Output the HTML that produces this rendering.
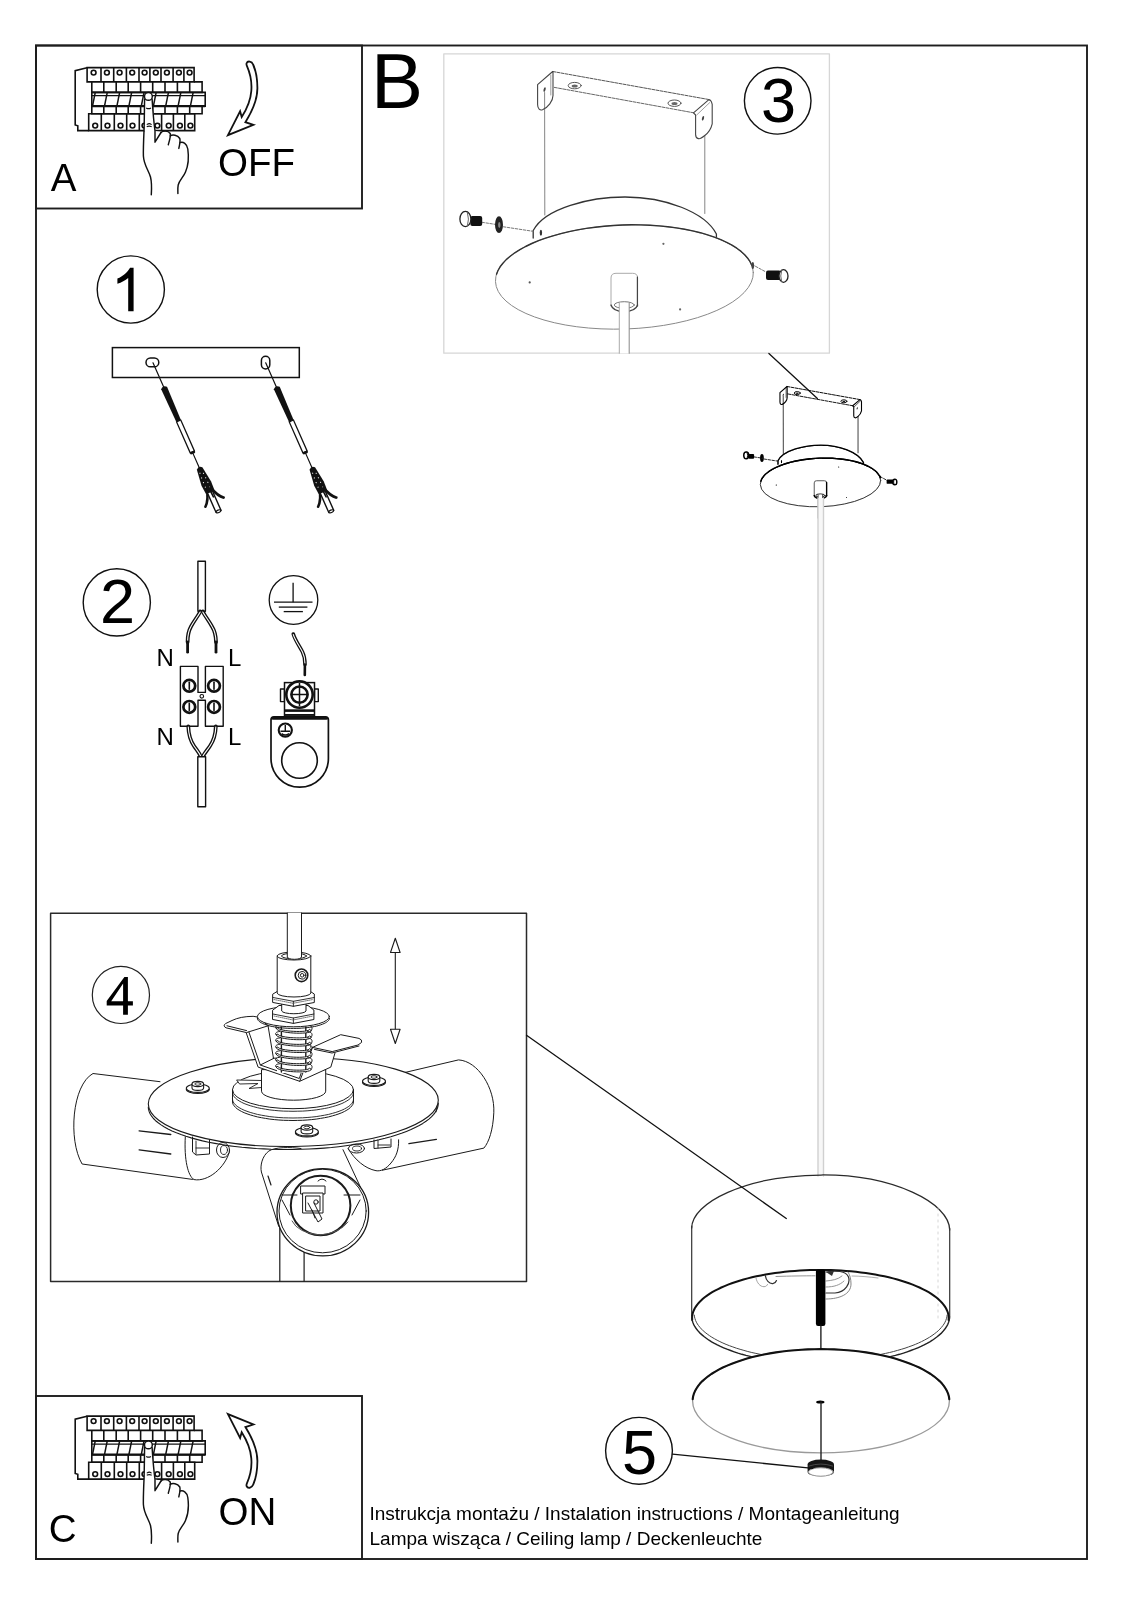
<!DOCTYPE html>
<html><head><meta charset="utf-8"><title>Instrukcja montażu - lampa wisząca</title>
<style>
html,body{margin:0;padding:0;background:#fff;width:1133px;height:1600px;overflow:hidden}
svg{position:absolute;left:0;top:0;display:block;will-change:transform}
text{font-family:"Liberation Sans",sans-serif;fill:#000}
.nss *{vector-effect:non-scaling-stroke}
</style></head><body>
<svg width="1133" height="1600" viewBox="0 0 1133 1600" fill="none" stroke-linejoin="round" stroke-linecap="round">
<!-- frames -->
<g stroke="#1e1e1e" stroke-width="1.9" stroke-linejoin="miter" stroke-linecap="butt">
<rect x="36" y="45.5" width="1051" height="1513.5"/>
<rect x="36" y="45.5" width="326" height="163"/>
<rect x="36" y="1396" width="326" height="163"/>
</g>
<rect x="50.6" y="913.2" width="475.9" height="368.2" stroke="#2a2a2a" stroke-width="1.5"/>
<rect x="443.8" y="53.8" width="385.6" height="299.4" stroke="#d6d6d6" stroke-width="1.3"/>

<!-- labels -->
<text x="371" y="107.5" font-size="78">B</text>
<text x="50.8" y="190.8" font-size="38.5">A</text>
<text x="218" y="176" font-size="38.5">OFF</text>
<text x="48.8" y="1542" font-size="38.5">C</text>
<text x="218.5" y="1524.6" font-size="38.5">ON</text>
<text x="369.5" y="1520.3" font-size="19">Instrukcja montażu / Instalation instructions / Montageanleitung</text>
<text x="369.5" y="1545.3" font-size="19">Lampa wisząca / Ceiling lamp / Deckenleuchte</text>

<!-- numbered circles -->
<g stroke="#111" stroke-width="1.4">
<circle cx="130.8" cy="289.5" r="33.6"/>
<circle cx="116.8" cy="602.4" r="33.6"/>
<circle cx="777.7" cy="100.8" r="33.3"/>
<circle cx="120.9" cy="994.9" r="28.6" stroke-width="1.2" stroke="#222"/>
<circle cx="639" cy="1450.8" r="33.4"/>
</g>
<path fill="#000" d="M133.6 267.7 L133.6 311.3 L128.2 311.3 L128.2 277.9 C125.3 280.3 121.5 282.3 117.4 283.8 L117.4 278.6 C123 276.3 127.6 272 130.1 267.7 Z"/>
<text x="100" y="623.3" font-size="63">2</text>
<text x="761" y="122" font-size="63">3</text>
<path fill="#000" fill-rule="evenodd" d="M124.4 976.9 H127.9 V1001.3 H132.9 V1005.5 H127.9 V1014.8 H123.1 V1005.5 H106.7 V1001 Z M111.2 1001.3 H123.1 V983.5 Z"/>
<text x="622" y="1473.7" font-size="63">5</text>

<!-- N L labels -->
<text x="156.5" y="665.5" font-size="24">N</text>
<text x="228" y="665.5" font-size="24">L</text>
<text x="156.5" y="744.6" font-size="24">N</text>
<text x="228" y="744.6" font-size="24">L</text>


<g id="brk" stroke="#111" stroke-width="1.6" fill="none" stroke-linejoin="miter" stroke-linecap="butt">
<path d="M87 67.8 L75.2 70.6 L75.2 125 L77.8 125.8 L77.8 130.6 L88.7 130.6"/>
<path d="M87.1 81.9 V67.6 H194.1 V81.9 Z"/>
<line x1="101.0" y1="67.6" x2="101.0" y2="81.9"/>
<line x1="113.7" y1="67.6" x2="113.7" y2="81.9"/>
<line x1="126.4" y1="67.6" x2="126.4" y2="81.9"/>
<line x1="139.0" y1="67.6" x2="139.0" y2="81.9"/>
<line x1="149.9" y1="67.6" x2="149.9" y2="81.9"/>
<line x1="161.0" y1="67.6" x2="161.0" y2="81.9"/>
<line x1="173.1" y1="67.6" x2="173.1" y2="81.9"/>
<line x1="183.9" y1="67.6" x2="183.9" y2="81.9"/>
<circle cx="93.6" cy="72.6" r="2.4"/>
<circle cx="106.9" cy="72.6" r="2.4"/>
<circle cx="119.6" cy="72.6" r="2.4"/>
<circle cx="132.2" cy="72.6" r="2.4"/>
<circle cx="144.6" cy="72.6" r="2.4"/>
<circle cx="155.8" cy="72.6" r="2.4"/>
<circle cx="166.9" cy="72.6" r="2.4"/>
<circle cx="178.9" cy="72.6" r="2.4"/>
<circle cx="189.6" cy="72.6" r="2.4"/>
<path d="M91.8 81.9 V92.4 H202.1 V81.9 H194.1"/>
<line x1="103.8" y1="81.9" x2="103.8" y2="92.4"/>
<line x1="116.2" y1="81.9" x2="116.2" y2="92.4"/>
<line x1="128.2" y1="81.9" x2="128.2" y2="92.4"/>
<line x1="140.6" y1="81.9" x2="140.6" y2="92.4"/>
<line x1="152.7" y1="81.9" x2="152.7" y2="92.4"/>
<line x1="165.0" y1="81.9" x2="165.0" y2="92.4"/>
<line x1="177.4" y1="81.9" x2="177.4" y2="92.4"/>
<line x1="189.7" y1="81.9" x2="189.7" y2="92.4"/>
<path d="M91.8 92.4 H205.2 V106.2 H91.8 Z"/>
<line x1="92" y1="95.7" x2="205" y2="95.7" stroke-width="1.3"/>
<line x1="92.6" y1="105.6" x2="95.2" y2="92.6" stroke-width="1.5"/>
<line x1="104.6" y1="105.6" x2="107.2" y2="92.6" stroke-width="1.5"/>
<line x1="117.0" y1="105.6" x2="119.6" y2="92.6" stroke-width="1.5"/>
<line x1="129.0" y1="105.6" x2="131.6" y2="92.6" stroke-width="1.5"/>
<line x1="141.4" y1="105.6" x2="144.0" y2="92.6" stroke-width="1.5"/>
<line x1="153.5" y1="105.6" x2="156.1" y2="92.6" stroke-width="1.5"/>
<line x1="165.8" y1="105.6" x2="168.4" y2="92.6" stroke-width="1.5"/>
<line x1="178.2" y1="105.6" x2="180.8" y2="92.6" stroke-width="1.5"/>
<line x1="190.5" y1="105.6" x2="193.1" y2="92.6" stroke-width="1.5"/>
<line x1="91.8" y1="106.2" x2="205.2" y2="106.2" stroke-width="2.2"/>
<path d="M91.8 106.2 V113.8 H202.1 V106.2"/>
<line x1="103.8" y1="106.2" x2="103.8" y2="113.8"/>
<line x1="116.2" y1="106.2" x2="116.2" y2="113.8"/>
<line x1="128.2" y1="106.2" x2="128.2" y2="113.8"/>
<line x1="140.6" y1="106.2" x2="140.6" y2="113.8"/>
<line x1="152.7" y1="106.2" x2="152.7" y2="113.8"/>
<line x1="165.0" y1="106.2" x2="165.0" y2="113.8"/>
<line x1="177.4" y1="106.2" x2="177.4" y2="113.8"/>
<line x1="189.7" y1="106.2" x2="189.7" y2="113.8"/>
<path d="M88.7 113.8 V130.6 H194.7 V113.8 Z"/>
<line x1="101.3" y1="113.8" x2="101.3" y2="130.6"/>
<line x1="114.3" y1="113.8" x2="114.3" y2="130.6"/>
<line x1="126.7" y1="113.8" x2="126.7" y2="130.6"/>
<line x1="139.3" y1="113.8" x2="139.3" y2="130.6"/>
<line x1="151.0" y1="113.8" x2="151.0" y2="130.6"/>
<line x1="161.6" y1="113.8" x2="161.6" y2="130.6"/>
<line x1="173.4" y1="113.8" x2="173.4" y2="130.6"/>
<line x1="184.8" y1="113.8" x2="184.8" y2="130.6"/>
<circle cx="95.2" cy="125.6" r="2.4"/>
<circle cx="107.5" cy="125.6" r="2.4"/>
<circle cx="120.5" cy="125.6" r="2.4"/>
<circle cx="132.5" cy="125.6" r="2.4"/>
<circle cx="144.5" cy="125.6" r="2.4"/>
<circle cx="157.4" cy="125.6" r="2.4"/>
<circle cx="168.7" cy="125.6" r="2.4"/>
<circle cx="179.9" cy="125.6" r="2.4"/>
<circle cx="190.4" cy="125.6" r="2.4"/>
</g>
<g id="hand" stroke="#111" stroke-width="1.45" stroke-linejoin="round" stroke-linecap="round">
<path fill="#fff" stroke="none" d="M144.4 97 L144.2 131 L155 142 L155.2 131 L152.2 97 Z"/>
<path fill="#fff" stroke="none" d="M155 131 L155 142.2 L161 132 Z"/>
<path d="M144.6 99 C144.4 110 144.3 125 144.0 131 C143.6 140 143.2 150 143.4 156 C143.8 165 148.5 170 150.5 177 C152 183 151.6 190 151.3 194.7"/>
<path d="M152.1 99 C152.8 110 154.2 125 155 131 L155 142.2 L161 132.5"/>
<path d="M161 132.5 C163 130.5 168 130.5 170.2 133.5 C171 136 169.3 141 168.3 144.7"/>
<path d="M170.2 135.8 C172.5 134.5 177.5 134.8 179.8 138.5 C180.6 141 179.5 145.5 178.8 148.4"/>
<path d="M180.2 142.5 C183 141.5 187 143.5 187.8 149 C188.8 156 188.5 165 185.5 172 C183.5 177 179.5 180 178.2 185 C177.6 188 177.9 191 177.9 193.5"/>
<circle cx="148.4" cy="96.4" r="3.9" fill="#fff"/>
<path d="M146.6 108.2 Q148.5 109.2 150.6 108.2" stroke-width="1.2"/>
<path d="M147.2 124.4 Q149.2 122.9 151.2 124.4 M147.2 126.6 Q149.2 125.6 151.2 126.6" stroke-width="1.15"/>
</g>
<path id="arrowOff" transform="translate(1,1)" stroke="#111" stroke-width="1.8" fill="#fff" stroke-linejoin="miter" d="M245.9 64.9 C249 72 251 82 250.3 90 C249.6 100 245.5 108.5 240.7 116.1 L239.1 110.3 L226.9 134.2 L252.4 123.8 L244.4 121.2 C249.5 113 256.5 100 256.4 87 C256.3 76 254.2 68 252.1 63.5 C250.8 60 246.6 59.6 245.6 62.2 C245.3 63 245.5 64 245.9 64.9 Z"/>
<g transform="matrix(1,0,0,-1,0,1549.3)"><path transform="translate(1,1)" stroke="#111" stroke-width="1.8" fill="#fff" stroke-linejoin="miter" d="M245.9 64.9 C249 72 251 82 250.3 90 C249.6 100 245.5 108.5 240.7 116.1 L239.1 110.3 L226.9 134.2 L252.4 123.8 L244.4 121.2 C249.5 113 256.5 100 256.4 87 C256.3 76 254.2 68 252.1 63.5 C250.8 60 246.6 59.6 245.6 62.2 C245.3 63 245.5 64 245.9 64.9 Z"/></g>
<g transform="translate(0,1348.5)"><g stroke="#111" stroke-width="1.6" fill="none" stroke-linejoin="miter" stroke-linecap="butt">
<path d="M87 67.8 L75.2 70.6 L75.2 125 L77.8 125.8 L77.8 130.6 L88.7 130.6"/>
<path d="M87.1 81.9 V67.6 H194.1 V81.9 Z"/>
<line x1="101.0" y1="67.6" x2="101.0" y2="81.9"/>
<line x1="113.7" y1="67.6" x2="113.7" y2="81.9"/>
<line x1="126.4" y1="67.6" x2="126.4" y2="81.9"/>
<line x1="139.0" y1="67.6" x2="139.0" y2="81.9"/>
<line x1="149.9" y1="67.6" x2="149.9" y2="81.9"/>
<line x1="161.0" y1="67.6" x2="161.0" y2="81.9"/>
<line x1="173.1" y1="67.6" x2="173.1" y2="81.9"/>
<line x1="183.9" y1="67.6" x2="183.9" y2="81.9"/>
<circle cx="93.6" cy="72.6" r="2.4"/>
<circle cx="106.9" cy="72.6" r="2.4"/>
<circle cx="119.6" cy="72.6" r="2.4"/>
<circle cx="132.2" cy="72.6" r="2.4"/>
<circle cx="144.6" cy="72.6" r="2.4"/>
<circle cx="155.8" cy="72.6" r="2.4"/>
<circle cx="166.9" cy="72.6" r="2.4"/>
<circle cx="178.9" cy="72.6" r="2.4"/>
<circle cx="189.6" cy="72.6" r="2.4"/>
<path d="M91.8 81.9 V92.4 H202.1 V81.9 H194.1"/>
<line x1="103.8" y1="81.9" x2="103.8" y2="92.4"/>
<line x1="116.2" y1="81.9" x2="116.2" y2="92.4"/>
<line x1="128.2" y1="81.9" x2="128.2" y2="92.4"/>
<line x1="140.6" y1="81.9" x2="140.6" y2="92.4"/>
<line x1="152.7" y1="81.9" x2="152.7" y2="92.4"/>
<line x1="165.0" y1="81.9" x2="165.0" y2="92.4"/>
<line x1="177.4" y1="81.9" x2="177.4" y2="92.4"/>
<line x1="189.7" y1="81.9" x2="189.7" y2="92.4"/>
<path d="M91.8 92.4 H205.2 V106.2 H91.8 Z"/>
<line x1="92" y1="95.7" x2="205" y2="95.7" stroke-width="1.3"/>
<line x1="92.6" y1="105.6" x2="95.2" y2="92.6" stroke-width="1.5"/>
<line x1="104.6" y1="105.6" x2="107.2" y2="92.6" stroke-width="1.5"/>
<line x1="117.0" y1="105.6" x2="119.6" y2="92.6" stroke-width="1.5"/>
<line x1="129.0" y1="105.6" x2="131.6" y2="92.6" stroke-width="1.5"/>
<line x1="141.4" y1="105.6" x2="144.0" y2="92.6" stroke-width="1.5"/>
<line x1="153.5" y1="105.6" x2="156.1" y2="92.6" stroke-width="1.5"/>
<line x1="165.8" y1="105.6" x2="168.4" y2="92.6" stroke-width="1.5"/>
<line x1="178.2" y1="105.6" x2="180.8" y2="92.6" stroke-width="1.5"/>
<line x1="190.5" y1="105.6" x2="193.1" y2="92.6" stroke-width="1.5"/>
<line x1="91.8" y1="106.2" x2="205.2" y2="106.2" stroke-width="2.2"/>
<path d="M91.8 106.2 V113.8 H202.1 V106.2"/>
<line x1="103.8" y1="106.2" x2="103.8" y2="113.8"/>
<line x1="116.2" y1="106.2" x2="116.2" y2="113.8"/>
<line x1="128.2" y1="106.2" x2="128.2" y2="113.8"/>
<line x1="140.6" y1="106.2" x2="140.6" y2="113.8"/>
<line x1="152.7" y1="106.2" x2="152.7" y2="113.8"/>
<line x1="165.0" y1="106.2" x2="165.0" y2="113.8"/>
<line x1="177.4" y1="106.2" x2="177.4" y2="113.8"/>
<line x1="189.7" y1="106.2" x2="189.7" y2="113.8"/>
<path d="M88.7 113.8 V130.6 H194.7 V113.8 Z"/>
<line x1="101.3" y1="113.8" x2="101.3" y2="130.6"/>
<line x1="114.3" y1="113.8" x2="114.3" y2="130.6"/>
<line x1="126.7" y1="113.8" x2="126.7" y2="130.6"/>
<line x1="139.3" y1="113.8" x2="139.3" y2="130.6"/>
<line x1="151.0" y1="113.8" x2="151.0" y2="130.6"/>
<line x1="161.6" y1="113.8" x2="161.6" y2="130.6"/>
<line x1="173.4" y1="113.8" x2="173.4" y2="130.6"/>
<line x1="184.8" y1="113.8" x2="184.8" y2="130.6"/>
<circle cx="95.2" cy="125.6" r="2.4"/>
<circle cx="107.5" cy="125.6" r="2.4"/>
<circle cx="120.5" cy="125.6" r="2.4"/>
<circle cx="132.5" cy="125.6" r="2.4"/>
<circle cx="144.5" cy="125.6" r="2.4"/>
<circle cx="157.4" cy="125.6" r="2.4"/>
<circle cx="168.7" cy="125.6" r="2.4"/>
<circle cx="179.9" cy="125.6" r="2.4"/>
<circle cx="190.4" cy="125.6" r="2.4"/>
</g></g>
<g transform="translate(0,1348.5)"><g stroke="#111" stroke-width="1.45" stroke-linejoin="round" stroke-linecap="round">
<path fill="#fff" stroke="none" d="M144.4 97 L144.2 131 L155 142 L155.2 131 L152.2 97 Z"/>
<path fill="#fff" stroke="none" d="M155 131 L155 142.2 L161 132 Z"/>
<path d="M144.6 99 C144.4 110 144.3 125 144.0 131 C143.6 140 143.2 150 143.4 156 C143.8 165 148.5 170 150.5 177 C152 183 151.6 190 151.3 194.7"/>
<path d="M152.1 99 C152.8 110 154.2 125 155 131 L155 142.2 L161 132.5"/>
<path d="M161 132.5 C163 130.5 168 130.5 170.2 133.5 C171 136 169.3 141 168.3 144.7"/>
<path d="M170.2 135.8 C172.5 134.5 177.5 134.8 179.8 138.5 C180.6 141 179.5 145.5 178.8 148.4"/>
<path d="M180.2 142.5 C183 141.5 187 143.5 187.8 149 C188.8 156 188.5 165 185.5 172 C183.5 177 179.5 180 178.2 185 C177.6 188 177.9 191 177.9 193.5"/>
<circle cx="148.4" cy="96.4" r="3.9" fill="#fff"/>
<path d="M146.6 108.2 Q148.5 109.2 150.6 108.2" stroke-width="1.2"/>
<path d="M147.2 124.4 Q149.2 122.9 151.2 124.4 M147.2 126.6 Q149.2 125.6 151.2 126.6" stroke-width="1.15"/>
</g></g>

<g stroke="#111" stroke-width="1.5">
<rect x="112.4" y="347.6" width="186.9" height="29.9" stroke-linejoin="miter"/>
<rect x="146" y="358" width="12.8" height="8.8" rx="4.4"/>
<rect x="261.4" y="356.3" width="8.4" height="12.6" rx="4.2"/>
</g>
<g id="screw1" transform="translate(153,362.8) rotate(-23.8)" stroke="#111">
<line x1="0" y1="0" x2="0" y2="27" stroke-width="1.2"/>
<path fill="#111" stroke="none" d="M-3.2 27.5 Q0 24.2 3.2 27.5 L2.5 63.5 L-2.5 63.5 Z"/>
<rect x="-2.3" y="63.5" width="4.6" height="34" fill="#fff" stroke-width="1.3"/>
<rect x="-2.7" y="96.8" width="5.4" height="2.6" rx="1.2" fill="#111" stroke="none"/>
<line x1="0" y1="99" x2="0" y2="115" stroke-width="1.2"/>
<path fill="#111" stroke="none" d="M-3 115.5 Q0 112.3 3 115.5 L5.3 132 L4.8 141.5 L-4.5 141.5 L-5.2 132 Z"/>
<g fill="#fff" stroke="none">
<circle cx="-1.6" cy="120" r="0.6"/><circle cx="1.6" cy="121.5" r="0.6"/>
<circle cx="-2" cy="125" r="0.6"/><circle cx="1.8" cy="126.5" r="0.6"/>
<circle cx="-2.2" cy="130" r="0.6"/><circle cx="2" cy="131.5" r="0.6"/>
<circle cx="-2.3" cy="135" r="0.6"/><circle cx="2.2" cy="136.5" r="0.6"/>
</g>
<path fill="#111" stroke="none" d="M2.5 134 Q6.5 147 11.8 151.5 Q11.5 153.6 9.6 153 Q4 149 1.5 139 Z"/>
<path fill="#111" stroke="none" d="M-2.5 135 Q-5 147 -11.5 152.5 Q-11.5 154.6 -9.5 154 Q-3.5 149 -1 139 Z"/>
<rect x="-2.7" y="141" width="5.4" height="21.5" fill="#fff" stroke-width="1.4"/>
<path d="M0.8 141 L1.2 147" stroke-width="1.6"/>
<ellipse cx="0" cy="162.3" rx="2.5" ry="1.3" fill="#fff" stroke-width="1.2"/>
</g>
<g transform="translate(112.7,0)"><g transform="translate(153,362.8) rotate(-23.8)" stroke="#111">
<line x1="0" y1="0" x2="0" y2="27" stroke-width="1.2"/>
<path fill="#111" stroke="none" d="M-3.2 27.5 Q0 24.2 3.2 27.5 L2.5 63.5 L-2.5 63.5 Z"/>
<rect x="-2.3" y="63.5" width="4.6" height="34" fill="#fff" stroke-width="1.3"/>
<rect x="-2.7" y="96.8" width="5.4" height="2.6" rx="1.2" fill="#111" stroke="none"/>
<line x1="0" y1="99" x2="0" y2="115" stroke-width="1.2"/>
<path fill="#111" stroke="none" d="M-3 115.5 Q0 112.3 3 115.5 L5.3 132 L4.8 141.5 L-4.5 141.5 L-5.2 132 Z"/>
<g fill="#fff" stroke="none">
<circle cx="-1.6" cy="120" r="0.6"/><circle cx="1.6" cy="121.5" r="0.6"/>
<circle cx="-2" cy="125" r="0.6"/><circle cx="1.8" cy="126.5" r="0.6"/>
<circle cx="-2.2" cy="130" r="0.6"/><circle cx="2" cy="131.5" r="0.6"/>
<circle cx="-2.3" cy="135" r="0.6"/><circle cx="2.2" cy="136.5" r="0.6"/>
</g>
<path fill="#111" stroke="none" d="M2.5 134 Q6.5 147 11.8 151.5 Q11.5 153.6 9.6 153 Q4 149 1.5 139 Z"/>
<path fill="#111" stroke="none" d="M-2.5 135 Q-5 147 -11.5 152.5 Q-11.5 154.6 -9.5 154 Q-3.5 149 -1 139 Z"/>
<rect x="-2.7" y="141" width="5.4" height="21.5" fill="#fff" stroke-width="1.4"/>
<path d="M0.8 141 L1.2 147" stroke-width="1.6"/>
<ellipse cx="0" cy="162.3" rx="2.5" ry="1.3" fill="#fff" stroke-width="1.2"/>
</g></g>

<g stroke="#111" stroke-width="1.4">
<!-- upper cable -->
<rect x="197.9" y="561.3" width="7.5" height="49.9" fill="#fff"/>
<!-- upper wires -->
<g stroke-width="3.8">
<path d="M200.2 611.5 C198 616 194 621 191 626.5 C188.5 631 187.6 636 187.6 642"/>
<path d="M202.8 611.5 C205 616 209 621 212 626.5 C214.8 631 215.9 636 216 642"/>
</g>
<g stroke="#fff" stroke-width="1.1">
<path d="M200.2 612 C198 616 194 621 191 626.5 C188.5 631 187.6 636 187.6 641.5"/>
<path d="M202.8 612 C205 616 209 621 212 626.5 C214.8 631 215.9 636 216 641.5"/>
</g>
<line x1="187.6" y1="642" x2="187.6" y2="652.2" stroke-width="2.8"/>
<line x1="216" y1="642" x2="216" y2="652.2" stroke-width="2.8"/>
<!-- terminal block -->
<path fill="#fff" d="M180.4 666.4 H198 V692.4 H205.4 V666.4 H223.2 V726.2 H205.4 V700.2 H198 V726.2 H180.4 Z"/>
<circle cx="201.8" cy="696.3" r="1.8" stroke-width="1.1" fill="#fff"/>
<g stroke-width="2.7" fill="#fff">
<circle cx="189.3" cy="685.8" r="5.9"/>
<circle cx="214" cy="685.8" r="5.9"/>
<circle cx="189.3" cy="706.9" r="5.9"/>
<circle cx="214" cy="706.9" r="5.9"/>
</g>
<g stroke-width="1.6">
<line x1="189.3" y1="682.3" x2="189.3" y2="689.3"/>
<line x1="214" y1="682.3" x2="214" y2="689.3"/>
<line x1="189.3" y1="703.4" x2="189.3" y2="710.4"/>
<line x1="214" y1="703.4" x2="214" y2="710.4"/>
</g>
<!-- lower wires -->
<g stroke-width="3.8">
<path d="M188.3 726.5 C188.5 733 190 740 194 746 C197 750.5 199.5 753 200.6 756.5"/>
<path d="M215.8 726.5 C215.6 733 214 740 210 746 C207 750.5 204.5 753 203 756.5"/>
</g>
<g stroke="#fff" stroke-width="1.1">
<path d="M188.3 727 C188.5 733 190 740 194 746 C197 750.5 199.5 753 200.6 756"/>
<path d="M215.8 727 C215.6 733 214 740 210 746 C207 750.5 204.5 753 203 756"/>
</g>
<rect x="197.8" y="756.7" width="7.8" height="50.1" fill="#fff"/>
<!-- ground symbol -->
<circle cx="293.5" cy="600" r="24.3" stroke-width="1.3"/>
<g stroke-width="1.3" stroke-linecap="butt">
<line x1="293.1" y1="582.7" x2="293.1" y2="602.2"/>
<line x1="274" y1="602.2" x2="312.5" y2="602.2"/>
<line x1="278.8" y1="607.1" x2="307.4" y2="607.1"/>
<line x1="283.7" y1="611.6" x2="302.9" y2="611.6"/>
</g>
<!-- ground wire -->
<path d="M293.3 634 C295 640 300 647 302.5 652 C304.5 656 305 660 305 664.5" stroke-width="3.6"/>
<path d="M293.3 634.6 C295 640 300 647 302.5 652 C304.5 656 305 660 305 664" stroke="#fff" stroke-width="1.1"/>
<line x1="304.9" y1="664.5" x2="304.8" y2="675" stroke-width="2.6"/>
<!-- ground lug -->
<path fill="#fff" stroke-width="1.7" d="M274 716.8 H325.4 Q328.4 716.8 328.4 719.8 V758.5 A28.7 28.7 0 0 1 271 758.5 V719.8 Q271 716.8 274 716.8 Z"/>
<line x1="273" y1="718.2" x2="326.4" y2="718.2" stroke-width="3"/>
<circle cx="299.5" cy="760.5" r="17.8" stroke-width="1.6"/>
<circle cx="285.3" cy="730.1" r="6.6" stroke-width="2.1" fill="#fff"/>
<path d="M285.3 725 V731 M280.5 731.2 H290.1 M281.6 733.6 Q285.3 736.5 289 733.6" stroke-width="1.4" stroke-linecap="butt"/>
<!-- terminal block top -->
<rect x="280.5" y="689" width="4" height="12.6" fill="#fff" stroke-width="1.4"/>
<rect x="314.5" y="689" width="3.8" height="12.6" fill="#fff" stroke-width="1.4"/>
<rect x="284.5" y="682.6" width="30" height="33.3" fill="#fff" stroke-width="1.5" stroke-linejoin="miter"/>
<line x1="285" y1="710.6" x2="314" y2="710.6" stroke-width="2.6" stroke-linecap="butt"/>
<line x1="285" y1="714.8" x2="314" y2="714.8" stroke-width="1.6" stroke-linecap="butt"/>
<circle cx="299.5" cy="694.6" r="13.2" stroke-width="2.6" fill="#fff"/>
<circle cx="299.5" cy="694.6" r="8.1" stroke-width="2.6"/>
<path d="M299.5 683 V706.2 M290.8 694.6 H308.2" stroke-width="1.5" stroke-linecap="butt"/>
</g>

<g id="canopyBig" class="nss" fill="none" stroke="#555" stroke-width="1">
<!-- vertical guide lines -->
<line x1="544.6" y1="92.5" x2="544.8" y2="215" stroke="#777" stroke-width="0.9"/>
<line x1="704.8" y1="136" x2="704.8" y2="213.5" stroke="#777" stroke-width="0.9"/>
<!-- bracket -->
<path d="M552.7 71.5 L709.8 99.7" stroke-dasharray="3 1.2" stroke="#555"/>
<path d="M554.4 87.4 L694.8 113" stroke-dasharray="3 1.2" stroke="#666"/>
<path d="M552.7 71.5 L537.6 84.6 V104.5 C537.6 109 540 110.5 542.5 109.8 C548 107.5 553 101 553 95.5 V71.5" stroke="#444" stroke-width="1.1"/>
<path d="M550.8 75 V95" stroke="#888" stroke-width="0.8"/>
<path d="M693.5 112.8 L708.3 100.1 Q711 99 712.2 104.4 V123.8 C711 129 708 133 704.8 135.5 C702 137.8 699.5 139 698.4 138.6 C696 138 695.6 136 695.6 134.4 V115 Z" stroke="#444" stroke-width="1.1"/>
<path d="M696.7 115 L709.7 102.6" stroke="#888" stroke-width="0.8"/>
<ellipse cx="544.6" cy="89.6" rx="1" ry="2.4" fill="#444" stroke="none" transform="rotate(15 544.6 89.6)"/>
<ellipse cx="703" cy="118.3" rx="1" ry="2.4" fill="#444" stroke="none" transform="rotate(15 703 118.3)"/>
<ellipse cx="574.7" cy="85.6" rx="6.5" ry="3.2" stroke="#555"/>
<ellipse cx="574.7" cy="85.9" rx="3" ry="1.5" fill="#666" stroke="none"/>
<ellipse cx="674.5" cy="103.2" rx="6.5" ry="3.2" stroke="#555"/>
<ellipse cx="674.5" cy="103.5" rx="3" ry="1.5" fill="#666" stroke="none"/>
<!-- canopy cylinder top -->
<path d="M533.2 238 V230.5 C545 208 590 197 625 197 C665 197 705 212 716.4 234 V241" fill="#fff" stroke="#333" stroke-width="1.3"/>
<!-- base plate -->
<ellipse cx="624.4" cy="277" rx="129" ry="52" transform="rotate(-2 624.4 277)" fill="#fff" stroke="#888" stroke-width="1"/>
<path d="M496.5 274.2 L498.0 270.5 L500.1 266.8 L502.9 263.2 L506.2 259.6 L510.2 256.2 L514.8 252.8 L519.9 249.6 L525.6 246.5 L531.8 243.5 L538.5 240.7 L545.5 238.1 L553.0 235.8 L560.9 233.6 L569.1 231.6 L577.6 229.9 L586.3 228.4 L595.2 227.2 L604.2 226.2 L613.4 225.5 L622.6 225.0 L631.8 224.8 L641.0 224.9 L650.1 225.3 L659.1 225.9 L667.8 226.7 L676.4 227.9 L684.7 229.3 L692.7 230.9 L700.4 232.7 L707.6 234.8 L714.4 237.1 L720.8 239.6 L726.7 242.3 L732.0 245.2 L736.8 248.2 L741.1 251.4 L744.7 254.7 L747.7 258.2 L750.1 261.7 L751.8 265.3" stroke="#333" stroke-width="1.4"/>
<!-- holes -->
<circle cx="529.7" cy="282.4" r="1.1" fill="#555" stroke="none"/>
<circle cx="663.4" cy="243.8" r="1.1" fill="#666" stroke="none"/>
<circle cx="680.1" cy="309.4" r="1.1" fill="#666" stroke="none"/>
<!-- cable stub -->
<path d="M611 306 V278 Q611 273.3 616 273.3 H632.6 Q637.6 273.3 637.6 278 V306" fill="#fff" stroke="#aaa"/>
<line x1="637.4" y1="277" x2="637.4" y2="306" stroke="#444" stroke-width="1.2"/>
<path d="M611 305 Q613 311.5 624 311.5 Q635.5 311.5 637.6 305" stroke="#444" stroke-width="1.3"/>
<ellipse cx="624.3" cy="305" rx="10" ry="3.3" stroke="#777"/>
<rect x="619.3" y="303" width="9.9" height="50.3" fill="#fff" stroke="none"/>
<line x1="619.3" y1="303" x2="619.3" y2="353.3" stroke="#aaa"/>
<line x1="629.2" y1="303" x2="629.2" y2="353.3" stroke="#888"/>
<!-- left screw + washer -->
<path d="M482 222.3 L495 224.3 M503.5 226.8 L533 231.3" stroke="#777" stroke-dasharray="2.5 1.5"/>
<rect x="470.3" y="215.9" width="11.9" height="10.1" rx="2" fill="#111" stroke="none"/>
<ellipse cx="465.4" cy="219" rx="5.5" ry="7.6" fill="#fff" stroke="#222" stroke-width="1.3"/>
<path d="M467.5 213 Q469.5 219 467.5 225.5" stroke="#666"/>
<ellipse cx="499" cy="224.7" rx="4" ry="8.4" fill="#222" stroke="none"/>
<ellipse cx="499.3" cy="224.9" rx="1.2" ry="3" fill="#888" stroke="none"/>
<ellipse cx="540.9" cy="232.7" rx="1.2" ry="3" fill="#333" stroke="none"/>
<!-- right screw -->
<path d="M752 264.4 L766 272" stroke="#777" stroke-dasharray="2.5 1.5"/>
<ellipse cx="752.8" cy="265.5" rx="1.3" ry="3.5" fill="#444" stroke="none"/>
<rect x="766" y="270.5" width="15" height="9.5" rx="2" fill="#111" stroke="none"/>
<ellipse cx="783.5" cy="276" rx="4.5" ry="6.3" fill="#fff" stroke="#222" stroke-width="1.3"/>
<path d="M781.6 270.5 Q779.8 276 781.6 281.5" stroke="#666"/>
</g>

<!-- small canopy (scaled copy) -->
<filter id="dk" x="-0.1" y="-0.1" width="1.2" height="1.2" filterUnits="objectBoundingBox"><feComponentTransfer><feFuncR type="gamma" exponent="2.2"/><feFuncG type="gamma" exponent="2.2"/><feFuncB type="gamma" exponent="2.2"/></feComponentTransfer></filter>
<g filter="url(#dk)"><g transform="matrix(0.467,0,0,0.467,528.9,353.1)"><g class="nss" fill="none" stroke="#555" stroke-width="1">
<!-- vertical guide lines -->
<line x1="544.6" y1="92.5" x2="544.8" y2="215" stroke="#777" stroke-width="0.9"/>
<line x1="704.8" y1="136" x2="704.8" y2="213.5" stroke="#777" stroke-width="0.9"/>
<!-- bracket -->
<path d="M552.7 71.5 L709.8 99.7" stroke-dasharray="3 1.2" stroke="#555"/>
<path d="M554.4 87.4 L694.8 113" stroke-dasharray="3 1.2" stroke="#666"/>
<path d="M552.7 71.5 L537.6 84.6 V104.5 C537.6 109 540 110.5 542.5 109.8 C548 107.5 553 101 553 95.5 V71.5" stroke="#444" stroke-width="1.1"/>
<path d="M550.8 75 V95" stroke="#888" stroke-width="0.8"/>
<path d="M693.5 112.8 L708.3 100.1 Q711 99 712.2 104.4 V123.8 C711 129 708 133 704.8 135.5 C702 137.8 699.5 139 698.4 138.6 C696 138 695.6 136 695.6 134.4 V115 Z" stroke="#444" stroke-width="1.1"/>
<path d="M696.7 115 L709.7 102.6" stroke="#888" stroke-width="0.8"/>
<ellipse cx="544.6" cy="89.6" rx="1" ry="2.4" fill="#444" stroke="none" transform="rotate(15 544.6 89.6)"/>
<ellipse cx="703" cy="118.3" rx="1" ry="2.4" fill="#444" stroke="none" transform="rotate(15 703 118.3)"/>
<ellipse cx="574.7" cy="85.6" rx="6.5" ry="3.2" stroke="#555"/>
<ellipse cx="574.7" cy="85.9" rx="3" ry="1.5" fill="#666" stroke="none"/>
<ellipse cx="674.5" cy="103.2" rx="6.5" ry="3.2" stroke="#555"/>
<ellipse cx="674.5" cy="103.5" rx="3" ry="1.5" fill="#666" stroke="none"/>
<!-- canopy cylinder top -->
<path d="M533.2 238 V230.5 C545 208 590 197 625 197 C665 197 705 212 716.4 234 V241" fill="#fff" stroke="#333" stroke-width="1.3"/>
<!-- base plate -->
<ellipse cx="624.4" cy="277" rx="129" ry="52" transform="rotate(-2 624.4 277)" fill="#fff" stroke="#888" stroke-width="1"/>
<path d="M496.5 274.2 L498.0 270.5 L500.1 266.8 L502.9 263.2 L506.2 259.6 L510.2 256.2 L514.8 252.8 L519.9 249.6 L525.6 246.5 L531.8 243.5 L538.5 240.7 L545.5 238.1 L553.0 235.8 L560.9 233.6 L569.1 231.6 L577.6 229.9 L586.3 228.4 L595.2 227.2 L604.2 226.2 L613.4 225.5 L622.6 225.0 L631.8 224.8 L641.0 224.9 L650.1 225.3 L659.1 225.9 L667.8 226.7 L676.4 227.9 L684.7 229.3 L692.7 230.9 L700.4 232.7 L707.6 234.8 L714.4 237.1 L720.8 239.6 L726.7 242.3 L732.0 245.2 L736.8 248.2 L741.1 251.4 L744.7 254.7 L747.7 258.2 L750.1 261.7 L751.8 265.3" stroke="#333" stroke-width="1.4"/>
<!-- holes -->
<circle cx="529.7" cy="282.4" r="1.1" fill="#555" stroke="none"/>
<circle cx="663.4" cy="243.8" r="1.1" fill="#666" stroke="none"/>
<circle cx="680.1" cy="309.4" r="1.1" fill="#666" stroke="none"/>
<!-- cable stub -->
<path d="M611 306 V278 Q611 273.3 616 273.3 H632.6 Q637.6 273.3 637.6 278 V306" fill="#fff" stroke="#aaa"/>
<line x1="637.4" y1="277" x2="637.4" y2="306" stroke="#444" stroke-width="1.2"/>
<path d="M611 305 Q613 311.5 624 311.5 Q635.5 311.5 637.6 305" stroke="#444" stroke-width="1.3"/>
<ellipse cx="624.3" cy="305" rx="10" ry="3.3" stroke="#777"/>
<rect x="619.3" y="303" width="9.9" height="50.3" fill="#fff" stroke="none"/>
<line x1="619.3" y1="303" x2="619.3" y2="353.3" stroke="#aaa"/>
<line x1="629.2" y1="303" x2="629.2" y2="353.3" stroke="#888"/>
<!-- left screw + washer -->
<path d="M482 222.3 L495 224.3 M503.5 226.8 L533 231.3" stroke="#777" stroke-dasharray="2.5 1.5"/>
<rect x="470.3" y="215.9" width="11.9" height="10.1" rx="2" fill="#111" stroke="none"/>
<ellipse cx="465.4" cy="219" rx="5.5" ry="7.6" fill="#fff" stroke="#222" stroke-width="1.3"/>
<path d="M467.5 213 Q469.5 219 467.5 225.5" stroke="#666"/>
<ellipse cx="499" cy="224.7" rx="4" ry="8.4" fill="#222" stroke="none"/>
<ellipse cx="499.3" cy="224.9" rx="1.2" ry="3" fill="#888" stroke="none"/>
<ellipse cx="540.9" cy="232.7" rx="1.2" ry="3" fill="#333" stroke="none"/>
<!-- right screw -->
<path d="M752 264.4 L766 272" stroke="#777" stroke-dasharray="2.5 1.5"/>
<ellipse cx="752.8" cy="265.5" rx="1.3" ry="3.5" fill="#444" stroke="none"/>
<rect x="766" y="270.5" width="15" height="9.5" rx="2" fill="#111" stroke="none"/>
<ellipse cx="783.5" cy="276" rx="4.5" ry="6.3" fill="#fff" stroke="#222" stroke-width="1.3"/>
<path d="M781.6 270.5 Q779.8 276 781.6 281.5" stroke="#666"/>
</g></g></g>
<!-- leader from box 3 -->
<line x1="768.9" y1="353.4" x2="817.4" y2="398.5" stroke="#111" stroke-width="1.3"/>
<!-- long cable -->
<rect x="818" y="498" width="5.5" height="678" fill="#f7f7f7" stroke="none"/>
<line x1="818" y1="498" x2="818" y2="1176" stroke="#d0d0d0" stroke-width="1.4"/>
<line x1="823.5" y1="498" x2="823.5" y2="1176" stroke="#d0d0d0" stroke-width="1.4"/>

<g fill="none">
<path d="M691.7 1228 C691.7 1203 745 1175.5 821 1175 C893 1174.5 949.7 1203 949.7 1230" stroke="#2a2a2a" stroke-width="1.25"/>
<line x1="691.7" y1="1226" x2="691.7" y2="1316" stroke="#333" stroke-width="1.2"/>
<line x1="949.7" y1="1228" x2="949.7" y2="1316" stroke="#333" stroke-width="1.2"/>
<line x1="938" y1="1208" x2="938" y2="1320" stroke="#ccc" stroke-width="0.8" stroke-dasharray="2 4"/>
<path d="M692.2 1319.9 L692.1 1317.9 L692.2 1316.0 L692.6 1314.1 L693.1 1312.1 L693.9 1310.2 L694.8 1308.3 L696.0 1306.4 L697.3 1304.6 L698.9 1302.7 L700.6 1300.9 L702.6 1299.1 L704.7 1297.3 L707.0 1295.6 L709.5 1293.9 L712.2 1292.2 L715.0 1290.6 L718.1 1289.1 L721.3 1287.5 L724.6 1286.1 L728.1 1284.6 L731.8 1283.3 L735.6 1282.0 L739.5 1280.7 L743.5 1279.5 L747.7 1278.4 L752.0 1277.3 L756.4 1276.3 L761.0 1275.4 L765.6 1274.5 L770.3 1273.7 L775.0 1273.0 L779.9 1272.4 L784.8 1271.8 L789.8 1271.3 L794.8 1270.9 L799.9 1270.5 L805.0 1270.2 L810.1 1270.1 L815.3 1269.9 L820.4 1269.9 L825.5 1269.9 L830.7 1270.1 L835.8 1270.2 L840.9 1270.5 L846.0 1270.9 L851.0 1271.3 L856.0 1271.8 L860.9 1272.4 L865.8 1273.0 L870.5 1273.7 L875.2 1274.5 L879.8 1275.4 L884.4 1276.3 L888.8 1277.3 L893.1 1278.4 L897.3 1279.5 L901.3 1280.7 L905.2 1282.0 L909.0 1283.3 L912.7 1284.6 L916.2 1286.1 L919.5 1287.5 L922.7 1289.1 L925.8 1290.6 L928.6 1292.2 L931.3 1293.9 L933.8 1295.6 L936.1 1297.3 L938.2 1299.1 L940.2 1300.9 L941.9 1302.7 L943.5 1304.6 L944.8 1306.4 L946.0 1308.3 L946.9 1310.2 L947.7 1312.1 L948.2 1314.1 L948.6 1316.0 L948.7 1317.9 L948.6 1319.9" stroke="#111" stroke-width="2"/>
<path d="M772.4 1360.8 L767.8 1360.0 L763.2 1359.2 L758.8 1358.4 L754.4 1357.4 L750.1 1356.4 L746.0 1355.4 L741.9 1354.3 L738.0 1353.1 L734.2 1351.8 L730.6 1350.5 L727.0 1349.2 L723.6 1347.8 L720.4 1346.4 L717.3 1344.9 L714.4 1343.4 L711.6 1341.8 L709.0 1340.2 L706.6 1338.5 L704.3 1336.8 L702.3 1335.1 L700.3 1333.4 L698.6 1331.6 L697.1 1329.8 L695.8 1328.0 L694.6 1326.2 L693.6 1324.3 L692.9 1322.5 L692.3 1320.6 L691.9 1318.7 L691.7 1316.8" stroke="#222" stroke-width="1.4"/>
<path d="M773.3 1356.6 L768.8 1355.9 L764.5 1355.2 L760.1 1354.3 L755.9 1353.4 L751.8 1352.5 L747.8 1351.5 L743.9 1350.4 L740.1 1349.3 L736.4 1348.2 L732.8 1346.9 L729.4 1345.7 L726.1 1344.4 L722.9 1343.0 L719.9 1341.6 L717.1 1340.2 L714.4 1338.7 L711.8 1337.2 L709.4 1335.6 L707.2 1334.0 L705.1 1332.4 L703.2 1330.8 L701.5 1329.1 L700.0 1327.4 L698.6 1325.7 L697.4 1324.0 L696.4 1322.2 L695.6 1320.5 L695.0 1318.7 L694.5 1316.9 L694.3 1315.1" stroke="#444" stroke-width="1"/>
<path d="M949.7 1316.8 L949.5 1318.7 L949.1 1320.6 L948.5 1322.5 L947.8 1324.3 L946.8 1326.2 L945.6 1328.0 L944.3 1329.8 L942.8 1331.6 L941.1 1333.4 L939.1 1335.1 L937.1 1336.8 L934.8 1338.5 L932.4 1340.2 L929.8 1341.8 L927.0 1343.4 L924.1 1344.9 L921.0 1346.4 L917.8 1347.8 L914.4 1349.2 L910.8 1350.5 L907.2 1351.8 L903.4 1353.1 L899.5 1354.3 L895.4 1355.4 L891.3 1356.4 L887.0 1357.4 L882.6 1358.4 L878.2 1359.2 L873.6 1360.0 L869.0 1360.8" stroke="#222" stroke-width="1.4"/>
<path d="M947.1 1315.1 L946.9 1316.9 L946.4 1318.7 L945.8 1320.5 L945.0 1322.2 L944.0 1324.0 L942.8 1325.7 L941.4 1327.4 L939.9 1329.1 L938.2 1330.8 L936.3 1332.4 L934.2 1334.0 L932.0 1335.6 L929.6 1337.2 L927.0 1338.7 L924.3 1340.2 L921.5 1341.6 L918.5 1343.0 L915.3 1344.4 L912.0 1345.7 L908.6 1346.9 L905.0 1348.2 L901.3 1349.3 L897.5 1350.4 L893.6 1351.5 L889.6 1352.5 L885.5 1353.4 L881.3 1354.3 L876.9 1355.2 L872.6 1355.9 L868.1 1356.6" stroke="#444" stroke-width="1"/>
<path d="M765.3 1275.6 C766 1280 769 1284 772.8 1283.6 C775 1283.3 776 1282 776.5 1280.5" stroke="#333" stroke-width="1.2"/>
<path d="M756 1278 C757 1283 760 1286.7 764 1286.7 C766 1286.7 767 1285.5 767.5 1284.5" stroke="#999" stroke-width="0.9"/>
<path d="M776 1276.5 C790 1276 805 1275.8 815 1275.8" stroke="#888" stroke-width="0.9"/>
<path d="M826 1272 C836 1270 846 1271 848.5 1277 C850.5 1283 846 1292 835 1293 L826 1293" stroke="#333" stroke-width="1.2"/>
<path d="M826 1299 C840 1299 851 1294 851 1284 C851 1279 850 1275 848 1272" stroke="#777" stroke-width="0.9"/>
<path d="M826 1281 C832 1280.5 838 1279.5 842 1276 M826 1287 C834 1287 840 1285 844 1281" stroke="#888" stroke-width="0.9"/>
<path d="M826 1272 L834 1271 L832 1276 Z" fill="#333" stroke="none"/>
<path d="M852 1276 C860 1276 870 1277 878 1278" stroke="#999" stroke-width="0.8"/>
<rect x="815.9" y="1269.5" width="9.5" height="56.5" rx="2.2" fill="#000"/>
<line x1="820.9" y1="1325" x2="820.9" y2="1350" stroke="#111" stroke-width="1.3"/>
<ellipse cx="821" cy="1401" rx="128.4" ry="51.9" fill="#fff" stroke="#9a9a9a" stroke-width="1.3"/>
<path d="M692.7 1399.2 L693.1 1396.5 L693.8 1393.9 L694.9 1391.3 L696.3 1388.7 L698.0 1386.1 L700.0 1383.6 L702.4 1381.1 L705.1 1378.7 L708.1 1376.3 L711.3 1374.0 L714.9 1371.8 L718.7 1369.6 L722.8 1367.5 L727.2 1365.6 L731.8 1363.7 L736.6 1361.9 L741.7 1360.2 L747.0 1358.6 L752.5 1357.1 L758.1 1355.8 L763.9 1354.5 L769.9 1353.4 L776.0 1352.4 L782.2 1351.5 L788.5 1350.8 L794.9 1350.2 L801.4 1349.7 L807.9 1349.4 L814.4 1349.2 L821.0 1349.1 L827.6 1349.2 L834.1 1349.4 L840.6 1349.7 L847.1 1350.2 L853.5 1350.8 L859.8 1351.5 L866.0 1352.4 L872.1 1353.4 L878.1 1354.5 L883.9 1355.8 L889.5 1357.1 L895.0 1358.6 L900.3 1360.2 L905.4 1361.9 L910.2 1363.7 L914.8 1365.6 L919.2 1367.5 L923.3 1369.6 L927.1 1371.8 L930.7 1374.0 L933.9 1376.3 L936.9 1378.7 L939.6 1381.1 L942.0 1383.6 L944.0 1386.1 L945.7 1388.7 L947.1 1391.3 L948.2 1393.9 L948.9 1396.5 L949.3 1399.2" stroke="#111" stroke-width="2.1"/>
<ellipse cx="820.3" cy="1402" rx="4.2" ry="1.6" fill="#000"/>
<line x1="821" y1="1402" x2="821" y2="1460" stroke="#222" stroke-width="1.4"/>
<path d="M807.6 1464.5 A13.2 5 0 0 1 834 1464.5 V1472 A13.2 4.3 0 0 1 807.6 1472 Z" fill="#151515"/>
<ellipse cx="820.8" cy="1472" rx="12.4" ry="4.2" fill="#fff" stroke="#999" stroke-width="1"/>
<path d="M809 1466 Q820.8 1462 832.6 1466" stroke="#555" stroke-width="0.8"/>
<line x1="672.5" y1="1454.2" x2="812.8" y2="1468.4" stroke="#111" stroke-width="1.3"/>
<line x1="526.5" y1="1035.3" x2="786.3" y2="1218.5" stroke="#111" stroke-width="1.3"/>
</g>
<g fill="none" stroke="#1a1a1a" stroke-width="1" stroke-linejoin="round">
<path fill="#fff" d="M93 1073.5 L160 1081.7 L200 1100 L230 1150 L192.5 1179.4 L82.1 1164 C70 1150 68 1100 93 1073.5 Z" stroke="none"/>
<path d="M160 1081.7 L93 1073.5 C72 1085 68 1140 82.1 1164 L192.5 1179.4"/>
<path d="M185.3 1136.8 C184 1160 188 1176 194 1179.6 C208 1182 225 1168 229.6 1151.3"/>
<path d="M139.1 1130.9 L170.8 1134.5 M139.1 1149.9 L170.8 1154" stroke-width="1.3"/>
<path fill="#fff" d="M402.3 1073.1 L458.5 1059.9 C480 1062 497 1090 493.8 1112.8 C492 1130 488 1142 483.9 1148.1 L382.4 1170.2 L380 1130 Z" stroke="none"/>
<path d="M402.3 1073.1 L458.5 1059.9 C478 1061 495 1088 493.8 1112.8 C493 1130 489 1142 483.9 1148.1 L382.4 1170.2"/>
<path d="M398.6 1139.8 C399 1150 396 1157 391 1163 C386 1169 381 1171.5 376 1170.7 C365 1168.5 355 1160 348 1148.5"/>
<path d="M408.9 1143.7 L436.4 1139.3" stroke-width="1.3"/>
<path d="M433 1090.8 C437 1098 438 1105 436 1112"/>
<path fill="#fff" d="M263.2 1150 C260 1160 260 1168 262.1 1172.4 L278.7 1223.1 L300 1240 L360.3 1183.4 L344.9 1148 Z" stroke="none"/>
<path d="M301 1148.5 C290 1147 275 1147 268.9 1151 C262 1156 260 1166 261.4 1172 L278.7 1226.3"/>
<path d="M343 1149.7 L360.3 1186.8"/>
<path d="M268 1176 L271 1185" stroke-width="1.2"/>
<line x1="279.8" y1="1225" x2="279.8" y2="1281" stroke-width="1.2"/>
<line x1="304.1" y1="1250" x2="304.1" y2="1281" stroke-width="1.2"/>
<ellipse cx="322.8" cy="1212.3" rx="45.8" ry="43.6" fill="#fff" stroke-width="1.3"/>
<ellipse cx="322.6" cy="1211" rx="43.6" ry="41.8" stroke-width="1"/>
<ellipse cx="320.6" cy="1205.5" rx="29.8" ry="29.8" stroke-width="2"/>
<g stroke-width="1">
<path d="M282 1195 H297 M344 1195 H360 M282 1200 L290 1215 M360 1200 L352 1215"/>
<rect x="301" y="1186" width="24" height="8"/>
<rect x="303" y="1193" width="20" height="20" fill="#fff"/>
<rect x="306" y="1196" width="14" height="15"/>
<path d="M308 1203 L318 1222 L322 1219 L314 1203 M312 1210 L315 1218"/>
<circle cx="316" cy="1202" r="2.2"/>
<path d="M318 1181 Q322 1177 326 1181"/>
<path d="M292 1221 Q298 1233 320 1235 Q340 1233 348 1222" stroke="#555"/>
</g>
<path fill="#fff" d="M192.5 1137 L192.5 1152 L196 1155 L209.5 1154 L209.5 1140" stroke-width="1"/>
<path d="M196 1141 V1154 M196 1148 H209" stroke-width="0.9"/>
<ellipse cx="223" cy="1150" rx="6.5" ry="7.5" fill="#fff" stroke-width="1"/>
<ellipse cx="224" cy="1150" rx="3.5" ry="4.5" stroke-width="0.9"/>
<path fill="#fff" d="M374 1140 L374 1148.5 L391 1147 L391 1139" stroke-width="1"/>
<path d="M378 1140 V1148 M378 1145 H390" stroke-width="0.9"/>
<ellipse cx="356.5" cy="1148.5" rx="8" ry="4.5" fill="#fff" stroke-width="1"/>
<ellipse cx="357" cy="1148.5" rx="4.5" ry="2.5" stroke-width="0.9"/>
<path d="M438.3 1103.0 L438.1 1105.3 L437.6 1107.6 L436.6 1110.0 L435.2 1112.3 L433.5 1114.6 L431.4 1116.8 L428.9 1119.1 L426.0 1121.2 L422.8 1123.4 L419.2 1125.5 L415.2 1127.5 L411.0 1129.5 L406.4 1131.4 L401.5 1133.3 L396.3 1135.0 L390.8 1136.7 L385.0 1138.3 L379.0 1139.8 L372.8 1141.2 L366.3 1142.5 L359.7 1143.7 L352.8 1144.8 L345.8 1145.8 L338.7 1146.7 L331.4 1147.5 L324.1 1148.1 L316.6 1148.6 L309.1 1149.0 L301.5 1149.3 L293.9 1149.5 L286.3 1149.5 L278.8 1149.5 L271.2 1149.3 L263.8 1148.9 L256.4 1148.5 L249.1 1147.9 L241.9 1147.3 L234.9 1146.5 L228.0 1145.6 L221.3 1144.5 L214.9 1143.4 L208.6 1142.2 L202.5 1140.9 L196.7 1139.4 L191.2 1137.9 L186.0 1136.3 L181.0 1134.6 L176.4 1132.8 L172.0 1130.9 L168.0 1129.0 L164.4 1127.0 L161.1 1124.9 L158.2 1122.8 L155.6 1120.7 L153.4 1118.5 L151.6 1116.2 L150.2 1114.0 L149.2 1111.7 L148.5 1109.4 L148.3 1107.0" stroke-width="1.1"/>
<ellipse cx="293.3" cy="1102" rx="145" ry="44.5" transform="rotate(-0.8 293.3 1102)" fill="#fff" stroke-width="1.1"/>
<path fill="#fff" d="M232.5 1089.7 V1101.5 L232.5 1101.5 L232.7 1103.0 L233.2 1104.5 L234.2 1105.9 L235.5 1107.4 L237.1 1108.8 L239.1 1110.1 L241.4 1111.4 L244.1 1112.7 L247.0 1113.8 L250.2 1114.9 L253.7 1115.9 L257.4 1116.9 L261.4 1117.7 L265.5 1118.4 L269.8 1119.1 L274.3 1119.6 L278.9 1120.0 L283.5 1120.3 L288.3 1120.4 L293.0 1120.5 L297.7 1120.4 L302.5 1120.3 L307.1 1120.0 L311.7 1119.6 L316.2 1119.1 L320.5 1118.4 L324.6 1117.7 L328.6 1116.9 L332.3 1115.9 L335.8 1114.9 L339.0 1113.8 L341.9 1112.7 L344.6 1111.4 L346.9 1110.1 L348.9 1108.8 L350.5 1107.4 L351.8 1105.9 L352.8 1104.5 L353.3 1103.0 L353.5 1101.5 Z" stroke="none"/>
<path d="M353.5 1101.5 L353.3 1103.0 L352.8 1104.5 L351.8 1105.9 L350.5 1107.4 L348.9 1108.8 L346.9 1110.1 L344.6 1111.4 L341.9 1112.7 L339.0 1113.8 L335.8 1114.9 L332.3 1115.9 L328.6 1116.9 L324.6 1117.7 L320.5 1118.4 L316.2 1119.1 L311.7 1119.6 L307.1 1120.0 L302.5 1120.3 L297.7 1120.4 L293.0 1120.5 L288.3 1120.4 L283.5 1120.3 L278.9 1120.0 L274.3 1119.6 L269.8 1119.1 L265.5 1118.4 L261.4 1117.7 L257.4 1116.9 L253.7 1115.9 L250.2 1114.9 L247.0 1113.8 L244.1 1112.7 L241.4 1111.4 L239.1 1110.1 L237.1 1108.8 L235.5 1107.4 L234.2 1105.9 L233.2 1104.5 L232.7 1103.0 L232.5 1101.5"/>
<path d="M353.5 1099.0 L353.3 1100.5 L352.8 1102.0 L351.8 1103.4 L350.5 1104.9 L348.9 1106.3 L346.9 1107.6 L344.6 1108.9 L341.9 1110.2 L339.0 1111.3 L335.8 1112.4 L332.3 1113.4 L328.6 1114.4 L324.6 1115.2 L320.5 1115.9 L316.2 1116.6 L311.7 1117.1 L307.1 1117.5 L302.5 1117.8 L297.7 1117.9 L293.0 1118.0 L288.3 1117.9 L283.5 1117.8 L278.9 1117.5 L274.3 1117.1 L269.8 1116.6 L265.5 1115.9 L261.4 1115.2 L257.4 1114.4 L253.7 1113.4 L250.2 1112.4 L247.0 1111.3 L244.1 1110.2 L241.4 1108.9 L239.1 1107.6 L237.1 1106.3 L235.5 1104.9 L234.2 1103.4 L233.2 1102.0 L232.7 1100.5 L232.5 1099.0" stroke-width="0.9"/>
<path d="M353.5 1092.3 L353.3 1093.8 L352.8 1095.3 L351.8 1096.7 L350.5 1098.2 L348.9 1099.6 L346.9 1100.9 L344.6 1102.2 L341.9 1103.5 L339.0 1104.6 L335.8 1105.7 L332.3 1106.7 L328.6 1107.7 L324.6 1108.5 L320.5 1109.2 L316.2 1109.9 L311.7 1110.4 L307.1 1110.8 L302.5 1111.1 L297.7 1111.2 L293.0 1111.3 L288.3 1111.2 L283.5 1111.1 L278.9 1110.8 L274.3 1110.4 L269.8 1109.9 L265.5 1109.2 L261.4 1108.5 L257.4 1107.7 L253.7 1106.7 L250.2 1105.7 L247.0 1104.6 L244.1 1103.5 L241.4 1102.2 L239.1 1100.9 L237.1 1099.6 L235.5 1098.2 L234.2 1096.7 L233.2 1095.3 L232.7 1093.8 L232.5 1092.3" stroke-width="0.9"/>
<ellipse cx="293" cy="1089.7" rx="60.5" ry="19" fill="#fff"/>
<path d="M232.5 1089.7 V1101.5 M353.5 1089.7 V1101.5"/>
<path fill="#fff" d="M237 1080 L261.5 1080.5 L261.5 1087.5 L249 1088.5 L258 1083.5 L240 1084 Z" stroke-width="0.9"/>
<path fill="#fff" d="M261.5 1070 V1091.2 A32.1 9 0 0 0 325.7 1091.2 V1070 Z"/>
<g stroke-width="1">
<path fill="#fff" d="M246.1 1032.5 L268 1025.5 L273 1060 L296 1074 L312.5 1047.4 L335 1053 L330.8 1067.1 L299.7 1081.3 L258.1 1067.1 Z" stroke="none"/>
<path d="M246.1 1032.5 L258.1 1067.1 L299.7 1081.3 L312.5 1047.4"/>
<path d="M248.6 1031.2 L260.3 1065 L299.3 1078.5 L310.3 1046.5"/>
<path d="M268 1025.5 L273.5 1058.5 M260.3 1065 L273.5 1058.5"/>
<path d="M299.7 1081.3 L330.8 1067.1 L335 1053"/>
<path fill="#fff" d="M246.1 1032.5 L226 1027.8 Q222.5 1026 225.5 1023.6 L232 1020.5 Q240 1016.5 253.1 1016.3 L257.4 1017 L268 1025.5 Z"/>
<path d="M227 1025.8 L246.6 1030.6"/>
<path fill="#fff" d="M312.5 1047.4 L340.7 1034.7 L359 1038.4 Q362.5 1039.6 361.6 1042.4 L358 1045 L332.2 1051.6 L312.5 1047.4 Z"/>
<path d="M314.5 1049.4 L332 1053 L359 1046"/>
</g>
<rect x="277" y="1026" width="33" height="47" fill="#fff" stroke="none"/>
<line x1="281.4" y1="1027" x2="281.4" y2="1072" stroke-width="1.4"/><line x1="305.8" y1="1027" x2="305.8" y2="1072" stroke-width="1.4"/>
<path fill="#fff" d="M276.2 1028.5 C276.5 1033.5 311 1035.0 311.2 1030.7 L309.6 1029.3 C309 1033.1 278.5 1031.5 278 1028.1 Z" stroke-width="1"/>
<path d="M279.5 1025.1 C275 1025.3 274.8 1028.0 276.2 1028.5" stroke-width="1"/>
<path d="M311.2 1030.7 C313.2 1028.0 312 1025.3 307.5 1024.9" stroke-width="1"/>
<path fill="#fff" d="M276.2 1035.0 C276.5 1040.0 311 1041.5 311.2 1037.2 L309.6 1035.8 C309 1039.5 278.5 1038.0 278 1034.5 Z" stroke-width="1"/>
<path d="M279.5 1031.5 C275 1031.8 274.8 1034.5 276.2 1035.0" stroke-width="1"/>
<path d="M311.2 1037.2 C313.2 1034.5 312 1031.8 307.5 1031.4" stroke-width="1"/>
<path fill="#fff" d="M276.2 1041.4 C276.5 1046.4 311 1047.9 311.2 1043.6 L309.6 1042.2 C309 1046.0 278.5 1044.4 278 1041.0 Z" stroke-width="1"/>
<path d="M279.5 1038.0 C275 1038.2 274.8 1040.9 276.2 1041.4" stroke-width="1"/>
<path d="M311.2 1043.6 C313.2 1040.9 312 1038.2 307.5 1037.8" stroke-width="1"/>
<path fill="#fff" d="M276.2 1047.8 C276.5 1052.8 311 1054.3 311.2 1050.0 L309.6 1048.6 C309 1052.4 278.5 1050.8 278 1047.4 Z" stroke-width="1"/>
<path d="M279.5 1044.4 C275 1044.6 274.8 1047.3 276.2 1047.8" stroke-width="1"/>
<path d="M311.2 1050.0 C313.2 1047.3 312 1044.6 307.5 1044.2" stroke-width="1"/>
<path fill="#fff" d="M276.2 1054.3 C276.5 1059.3 311 1060.8 311.2 1056.5 L309.6 1055.1 C309 1058.9 278.5 1057.3 278 1053.9 Z" stroke-width="1"/>
<path d="M279.5 1050.9 C275 1051.1 274.8 1053.8 276.2 1054.3" stroke-width="1"/>
<path d="M311.2 1056.5 C313.2 1053.8 312 1051.1 307.5 1050.7" stroke-width="1"/>
<path fill="#fff" d="M276.2 1060.8 C276.5 1065.8 311 1067.2 311.2 1063.0 L309.6 1061.5 C309 1065.3 278.5 1063.8 278 1060.3 Z" stroke-width="1"/>
<path d="M279.5 1057.3 C275 1057.5 274.8 1060.2 276.2 1060.8" stroke-width="1"/>
<path d="M311.2 1063.0 C313.2 1060.2 312 1057.5 307.5 1057.2" stroke-width="1"/>
<path fill="#fff" d="M276.2 1067.2 C276.5 1072.2 311 1073.7 311.2 1069.4 L309.6 1068.0 C309 1071.8 278.5 1070.2 278 1066.8 Z" stroke-width="1"/>
<path d="M279.5 1063.8 C275 1064.0 274.8 1066.7 276.2 1067.2" stroke-width="1"/>
<path d="M311.2 1069.4 C313.2 1066.7 312 1064.0 307.5 1063.6" stroke-width="1"/>
<path d="M329.4 1018.2 L329.3 1019.0 L329.0 1019.8 L328.4 1020.6 L327.6 1021.4 L326.7 1022.1 L325.5 1022.8 L324.1 1023.5 L322.5 1024.2 L320.8 1024.8 L318.9 1025.4 L316.8 1026.0 L314.6 1026.5 L312.2 1026.9 L309.7 1027.3 L307.2 1027.6 L304.5 1027.9 L301.8 1028.1 L299.0 1028.3 L296.2 1028.4 L293.4 1028.4 L290.6 1028.4 L287.8 1028.3 L285.0 1028.1 L282.3 1027.9 L279.6 1027.6 L277.1 1027.3 L274.6 1026.9 L272.2 1026.5 L270.0 1026.0 L267.9 1025.4 L266.0 1024.8 L264.3 1024.2 L262.7 1023.5 L261.3 1022.8 L260.1 1022.1 L259.2 1021.4 L258.4 1020.6 L257.8 1019.8 L257.5 1019.0 L257.4 1018.2"/>
<ellipse cx="293.4" cy="1016.6" rx="36" ry="10.2" fill="#fff"/>
<path fill="#fff" d="M272.9 1010 L279 1005.5 H308 L313.9 1010 V1019.5 L293.4 1023.4 L272.9 1019.5 Z"/>
<path d="M272.9 1014 L293.4 1018 L313.9 1014 M293.4 1018 V1023.4" stroke-width="0.9"/>
<path d="M274 1016 L293 1020 L313 1016" stroke="#555" stroke-width="0.8" stroke-dasharray="1 1"/>
<path fill="#fff" d="M281.7 1003 V1011 A12.2 3 0 0 0 306 1011 V1003 Z"/>
<path fill="#fff" d="M273 994 L279 990.3 H308.5 L314.3 994 V1002.5 L293.4 1006.3 L273 1002.5 Z"/>
<path d="M273 997.5 L293.4 1001.3 L314.3 997.5 M293.4 1001.3 V1006.3" stroke-width="0.9"/>
<path d="M274 999.5 L293 1003.3 L313 999.5" stroke="#555" stroke-width="0.8" stroke-dasharray="1 1"/>
<path fill="#fff" d="M277.2 956 V993 A16.8 4 0 0 0 310.8 993 V956"/>
<ellipse cx="294" cy="956" rx="16.8" ry="4" fill="#fff"/>
<ellipse cx="294" cy="956" rx="12.5" ry="2.8"/>
<path fill="#fff" d="M287.3 913 V957 A7.1 2.3 0 0 0 301.5 957 V913"/>
<circle cx="301.5" cy="975.3" r="6.3" fill="#fff" stroke-width="1.6"/>
<circle cx="302" cy="975.3" r="3.8"/>
<circle cx="302.2" cy="975.3" r="1.8"/>
<ellipse cx="197.8" cy="1088.2" rx="11.5" ry="4.2" fill="#fff" stroke-width="1.1"/>
<path d="M186.3 1089.2 A11.5 4.2 0 0 0 209.3 1089.2" stroke-width="1.1"/>
<path fill="#fff" d="M192.0 1084.0 V1088.0 A5.8 2.4 0 0 0 203.6 1088.0 V1084.0" stroke-width="1.1"/>
<ellipse cx="197.8" cy="1084.0" rx="5.8" ry="2.6" fill="#fff" stroke-width="1.1"/>
<ellipse cx="197.8" cy="1084.0" rx="3" ry="1.3" stroke-width="0.9"/>
<ellipse cx="374.0" cy="1081.2" rx="11.5" ry="4.2" fill="#fff" stroke-width="1.1"/>
<path d="M362.5 1082.2 A11.5 4.2 0 0 0 385.5 1082.2" stroke-width="1.1"/>
<path fill="#fff" d="M368.2 1077.0 V1081.0 A5.8 2.4 0 0 0 379.8 1081.0 V1077.0" stroke-width="1.1"/>
<ellipse cx="374.0" cy="1077.0" rx="5.8" ry="2.6" fill="#fff" stroke-width="1.1"/>
<ellipse cx="374.0" cy="1077.0" rx="3" ry="1.3" stroke-width="0.9"/>
<ellipse cx="306.9" cy="1131.7" rx="11.5" ry="4.2" fill="#fff" stroke-width="1.1"/>
<path d="M295.4 1132.7 A11.5 4.2 0 0 0 318.4 1132.7" stroke-width="1.1"/>
<path fill="#fff" d="M301.1 1127.5 V1131.5 A5.8 2.4 0 0 0 312.7 1131.5 V1127.5" stroke-width="1.1"/>
<ellipse cx="306.9" cy="1127.5" rx="5.8" ry="2.6" fill="#fff" stroke-width="1.1"/>
<ellipse cx="306.9" cy="1127.5" rx="3" ry="1.3" stroke-width="0.9"/>
<line x1="395.3" y1="952" x2="395.3" y2="1030" stroke-width="1.1"/>
<path d="M395.3 938.3 L390.5 952.5 H400.1 Z M395.3 1043.5 L390.5 1029.3 H400.1 Z" fill="#fff" stroke-width="1.1"/>
</g>
</svg>
</body></html>
